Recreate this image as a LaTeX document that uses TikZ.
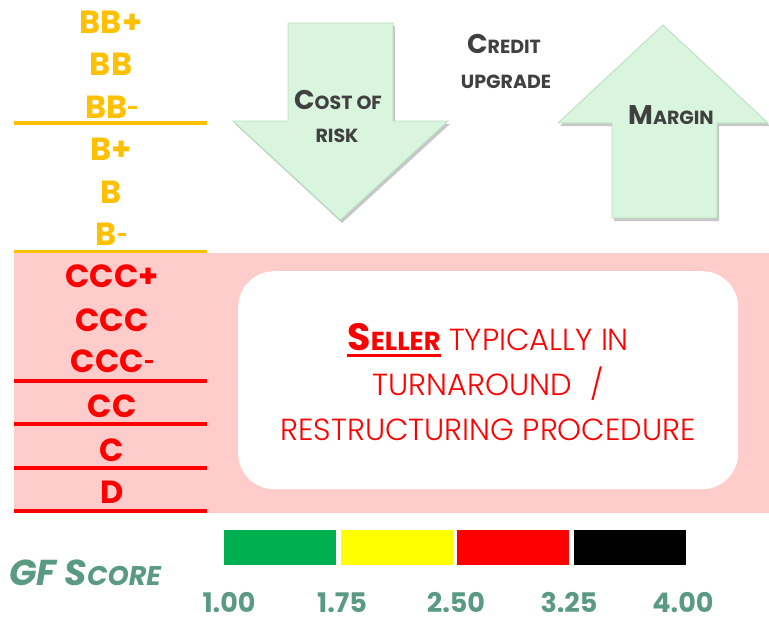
\documentclass[tikz,border=0pt]{standalone}
\usepackage{fontspec}
\setmainfont{Poppins}
\newfontfamily\thinfont{Poppins Light}

\definecolor{ratingorange}{HTML}{FFC000}
\definecolor{ratingred}{HTML}{FF0000}
\definecolor{zonepink}{HTML}{FFCCCC}
\definecolor{arrowfill}{HTML}{D9F5DD}
\definecolor{arrowedge}{HTML}{B7DFC0}
\definecolor{labelgray}{HTML}{404040}
\definecolor{scoreteal}{HTML}{5B9A82}
\definecolor{bargreen}{HTML}{00B050}
\definecolor{baryellow}{HTML}{FFFF00}

% small-caps imitation: large initial, smaller capitals
\newcommand{\initcap}[1]{{\fontsize{27}{27}\selectfont #1}}
\newcommand{\restcap}[1]{{\fontsize{19}{19}\selectfont #1}}
% short minus sign for the rating notches
\newcommand{\notch}{\kern1pt\rule[0.27em]{0.26em}{0.11em}}

\begin{document}
\begin{tikzpicture}[x=1pt,y=-1pt,
  rating/.style={anchor=base,inner sep=0pt,font=\fontsize{32}{32}\selectfont\bfseries},
  orangetxt/.style={rating,text=ratingorange},
  redtxt/.style={rating,text=ratingred},
  orangerule/.style={draw=ratingorange,line width=3.5pt},
  redrule/.style={draw=ratingred,line width=3.5pt},
  bigarrow/.style={fill=arrowfill,draw=arrowedge,line width=0.8pt,line join=miter},
  arrowshade/.style={fill=black,opacity=0.22},
  graylabel/.style={anchor=base,inner sep=0pt,text=labelgray,font=\bfseries},
  boxline/.style={anchor=base,inner sep=0pt,text=ratingred,font=\fontsize{30.5}{30}\selectfont\thinfont},
  scorebar/.style={minimum width=112pt,minimum height=35pt,inner sep=0pt,anchor=north west},
  scorenum/.style={anchor=base,inner sep=0pt,text=scoreteal,font=\fontsize{27}{27}\selectfont\bfseries}
]
\useasboundingbox (0,0) rectangle (769,621);

% ---- distressed zone background
\fill[zonepink] (14,253) rectangle (769,513);
\node[fill=white,rounded corners=36pt,minimum width=500pt,minimum height=218pt,inner sep=0pt,anchor=north west] (box) at (238,271) {};

% ---- rating scale, B category
\node[orangetxt] (bbp) at (111,33) {BB+};
\node[orangetxt] (bb) at (111,75) {BB};
\node[orangetxt] (bbm) at (111,118) {BB\notch};
\node[orangetxt] (bp) at (111,160) {B+};
\node[orangetxt] (b) at (111,203) {B};
\node[orangetxt] (bm) at (111,245) {B\notch};
\coordinate (o1l) at (14,123); \coordinate (o1r) at (207,123);
\coordinate (o2l) at (14,251.5); \coordinate (o2r) at (207,251.5);
\draw[orangerule] (o1l) -- (o1r);
\draw[orangerule] (o2l) -- (o2r);

% ---- rating scale, C category and default
\node[redtxt] (cccp) at (112,287) {CCC+};
\node[redtxt] (ccc) at (112,331) {CCC};
\node[redtxt] (cccm) at (112,372) {CCC\notch};
\node[redtxt] (cc) at (112,417) {CC};
\node[redtxt] (c) at (112,461) {C};
\node[redtxt] (d) at (112,503) {D};
\foreach \yy/\nm in {381/r1,424/r2,468/r3,511/r4}{
  \coordinate (\nm l) at (14,\yy); \coordinate (\nm r) at (207,\yy);
  \draw[redrule] (\nm l) -- (\nm r);
}

% ---- down arrow: cost of risk
\fill[arrowshade] (290,26) -- (395,26) -- (395,124) -- (450,124) -- (342,223) -- (235,124) -- (290,124) -- cycle;
\draw[bigarrow] (288,23) -- (393,23) -- (393,121) -- (448,121) -- (340.5,220) -- (233,121) -- (288,121) -- cycle;
\node[graylabel] (cost) at (338,109) {\initcap{C}\restcap{OST OF}};
\node[graylabel] (risk) at (337,142) {\restcap{RISK}};

% ---- credit upgrade heading
\node[graylabel] (credit) at (504,53) {\initcap{C}\restcap{REDIT}};
\node[graylabel] (upgrade) at (506,88) {\restcap{UPGRADE}};

% ---- up arrow: margin
\fill[arrowshade] (665,28) -- (770,126) -- (719,126) -- (719,221) -- (614,221) -- (614,126) -- (560,126) -- cycle;
\draw[bigarrow] (663,25) -- (768,123) -- (717,123) -- (717,218) -- (612,218) -- (612,123) -- (558,123) -- cycle;
\node[graylabel] (margin) at (671,124) {\initcap{M}\restcap{ARGIN}};

% ---- box statement
\node[boxline] (l1) at (box.center |- 0,350) {%
  {\normalfont\bfseries\setbox0\hbox{{\fontsize{38}{38}\selectfont S}{\fontsize{26}{26}\selectfont ELLER}}%
   \rlap{\raisebox{-7pt}{\rule{\wd0}{3pt}}}\box0}
  TYPICALLY IN};
\node[boxline] (l2) at (box.center |- 0,395) {TURNAROUND\hspace{18pt}/};
\node[boxline] (l3) at (box.center |- 0,440) {RESTRUCTURING PROCEDURE};

% ---- GF score scale
\node[anchor=base west,inner sep=0pt,text=scoreteal,font=\bfseries\itshape] (gf) at (9,585)
  {\fontsize{36}{36}\selectfont GF S\fontsize{27}{27}\selectfont CORE};
\node[scorebar,fill=bargreen] (g1) at (224,530) {};
\node[scorebar,fill=baryellow] (g2) at (340.5,530) {};
\node[scorebar,fill=ratingred] (g3) at (457,530) {};
\node[scorebar,fill=black] (g4) at (573.5,530) {};
\node[scorenum] (n1) at (229,612) {1.00};
\node[scorenum] (n2) at (342,612) {1.75};
\node[scorenum] (n3) at (456,612) {2.50};
\node[scorenum] (n4) at (569,612) {3.25};
\node[scorenum] (n5) at (683,612) {4.00};
\end{tikzpicture}
\end{document}
